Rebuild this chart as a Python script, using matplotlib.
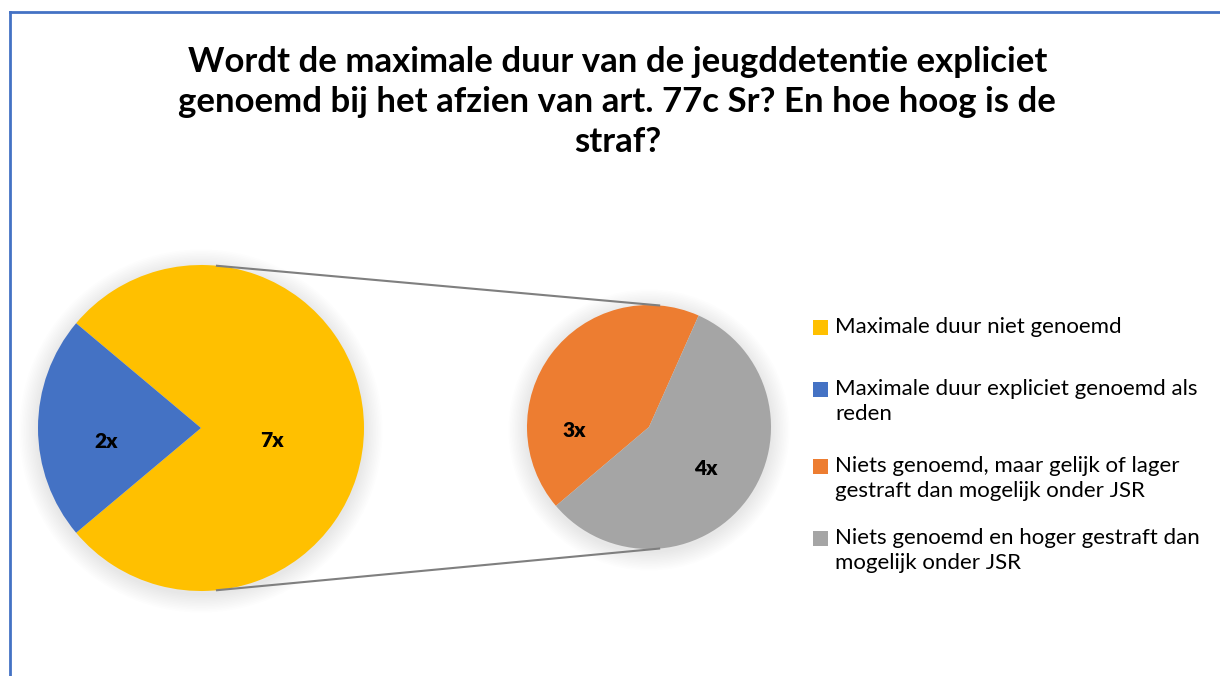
import numpy as np
import matplotlib
matplotlib.use("Agg")
import matplotlib.pyplot as plt
from matplotlib.patches import Circle, Rectangle
from matplotlib.lines import Line2D

# ---- data ----
title = ("Wordt de maximale duur van de jeugddetentie expliciet\n"
         "genoemd bij het afzien van art. 77c Sr? En hoe hoog is de\n"
         "straf?")
main_labels = ["Maximale duur niet genoemd",
               "Maximale duur expliciet genoemd als\nreden"]
main_values = [7, 2]
main_colors = ["#FFC000", "#4472C4"]
sub_labels = ["Niets genoemd, maar gelijk of lager\ngestraft dan mogelijk onder JSR",
              "Niets genoemd en hoger gestraft dan\nmogelijk onder JSR"]
sub_values = [3, 4]
sub_colors = ["#ED7D31", "#A5A5A5"]
value_fmt = "{}x"

plt.rcParams['font.family'] = ['Lato', 'DejaVu Sans']

W, H = 1220, 676
fig = plt.figure(figsize=(W / 100, H / 100), dpi=100)
ax = fig.add_axes([0, 0, 1, 1])

def py(y):
    return H - y

c1 = (201, py(428)); r1 = 163
c2 = (649, py(427)); r2 = 122

# soft shadows
for c, r in [(c1, r1), (c2, r2)]:
    for i in range(12):
        ax.add_patch(Circle((c[0], c[1] - 3), r + 1 + i * 1.6, color='black',
                            alpha=0.007, lw=0, zorder=1))

ax.pie(main_values, colors=main_colors, startangle=220, counterclock=True,
       center=c1, radius=r1, frame=True,
       wedgeprops=dict(linewidth=0, zorder=2))
ax.pie(sub_values, colors=sub_colors, startangle=66, counterclock=True,
       center=c2, radius=r2, frame=True,
       wedgeprops=dict(linewidth=0, zorder=2))
ax.set_xlim(0, W)
ax.set_ylim(0, H)
ax.set_aspect('equal')
ax.axis('off')

# value labels (position as polar offset: angle deg, fraction of radius)
main_lab_pos = [(-10, 0.44), (188, 0.59)]
sub_lab_pos = [(183, 0.61), (324, 0.58)]
for vals, c, r, pos in [(main_values, c1, r1, main_lab_pos), (sub_values, c2, r2, sub_lab_pos)]:
    for v, (a, f) in zip(vals, pos):
        x = c[0] + f * r * np.cos(np.radians(a))
        y = c[1] + f * r * np.sin(np.radians(a))
        ax.text(x, y, value_fmt.format(v), ha='center', va='center',
                fontsize=15, fontweight='heavy', color='black', zorder=5)

# connector lines: external tangents
d = c2[0] - c1[0]
phi = np.degrees(np.arcsin((r1 - r2) / d))
for s in (1, -1):
    a = np.radians(s * (90 - phi))
    p1 = (c1[0] + r1 * np.cos(a), c1[1] + r1 * np.sin(a))
    p2 = (c2[0] + r2 * np.cos(a), c2[1] + r2 * np.sin(a))
    ax.plot([p1[0], p2[0]], [p1[1], p2[1]], color='#7F7F7F', lw=1.5, zorder=3,
            solid_capstyle='butt')

# title
fig.text(0.506, py(102) / H, title, ha='center', va='center', fontsize=25,
         fontweight='bold', color='black', linespacing=1.3)

# legend
leg_labels = main_labels + sub_labels
leg_colors = main_colors + sub_colors
leg_y = [327, 389, 466, 538]
for lab, col, y in zip(leg_labels, leg_colors, leg_y):
    ax.add_patch(Rectangle((813, py(y) - 7.5), 15, 15, color=col, lw=0, zorder=5))
    ax.text(835, py(y - 10), lab, ha='left', va='top', fontsize=16, color='black',
            linespacing=1.32, zorder=5)

# border (left and top edge visible)
fig.add_artist(Line2D([10 / W, 10 / W], [0, py(12) / H], color='#4472C4', lw=2,
                      transform=fig.transFigure))
fig.add_artist(Line2D([10 / W, 1], [py(12) / H, py(12) / H], color='#4472C4', lw=2,
                      transform=fig.transFigure))

fig.savefig("out.png", dpi=100, facecolor='white')
